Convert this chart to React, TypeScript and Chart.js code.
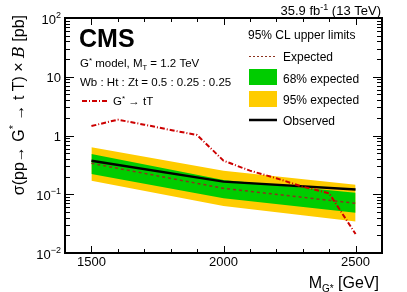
import React, { useEffect, useRef } from 'react';
import { Chart, registerables } from 'chart.js';

Chart.register(...registerables);

// ---- data ----
const limitMasses = [1500, 2000, 2500];
const expectedLimit = [0.336, 0.126, 0.0701];
const band68Lo = [0.221, 0.0853, 0.0486];
const band68Hi = [0.484, 0.175, 0.106];
const band95Lo = [0.17, 0.063, 0.0344];
const band95Hi = [0.63, 0.252, 0.1455];
const observedLimit = [0.372, 0.164, 0.121];

const theoryMasses = [1500, 1600, 1700, 1800, 1900, 2000, 2100, 2200, 2300, 2400, 2500];
const theoryXsec = [1.45, 1.86, 1.53, 1.24, 1.02, 0.373, 0.252, 0.187, 0.1345, 0.1037, 0.021];

const xMin = 1400;
const xMax = 2600;
const xMajorTicks = [1500, 2000, 2500];
const xMinorStep = 100;
const yMin = 0.01;
const yMax = 100;
const yTickValues = [0.01, 0.1, 1, 10, 100];
const yTickBase = ['10', '10', '1', '10', '10'];
const yTickExp = ['\u22122', '\u22121', '', '', '2'];

const F = '"Liberation Sans", Arial, Helvetica, sans-serif';

const C_RED = '#cc0000';
const C_EXP = 'rgb(140,50,30)';
const C_GREEN = '#00cc00';
const C_YELLOW = '#ffcc00';

type Seg = { t: string; size: number; dy?: number; style?: string; family?: string };

function segFont(s: Seg) {
  return `${s.style ? s.style + ' ' : ''}${s.size}px ${s.family || F}`;
}

function drawRich(ctx: CanvasRenderingContext2D, segs: Seg[], x: number, y: number, align: 'left' | 'right' | 'center') {
  ctx.textBaseline = 'alphabetic';
  ctx.textAlign = 'left';
  let total = 0;
  const widths = segs.map((s) => {
    ctx.font = segFont(s);
    const w = ctx.measureText(s.t).width;
    total += w;
    return w;
  });
  let cx = align === 'left' ? x : align === 'right' ? x - total : x - total / 2;
  segs.forEach((s, i) => {
    ctx.font = segFont(s);
    ctx.fillText(s.t, cx, y + (s.dy || 0));
    cx += widths[i];
  });
}

const decorPlugin = {
  id: 'decor',
  afterDraw(chart: any) {
    const ctx: CanvasRenderingContext2D = chart.ctx;
    const { left, right, top, bottom } = chart.chartArea;
    const xs = chart.scales.x;
    const ys = chart.scales.y;
    ctx.save();
    ctx.fillStyle = '#000';
    ctx.strokeStyle = '#000';

    // ticks
    ctx.lineWidth = 1;
    ctx.beginPath();
    for (let v = xMin; v <= xMax; v += xMinorStep) {
      const px = Math.round(xs.getPixelForValue(v)) + 0.5;
      const len = xMajorTicks.includes(v) ? 7 : 4;
      ctx.moveTo(px, bottom);
      ctx.lineTo(px, bottom - len);
      ctx.moveTo(px, top);
      ctx.lineTo(px, top + len);
    }
    for (let d = -2; d < 2; d++) {
      for (let m = 1; m <= 9; m++) {
        const v = m * Math.pow(10, d);
        const py = Math.round(ys.getPixelForValue(v)) + 0.5;
        const len = m === 1 ? 9 : 5;
        ctx.moveTo(left, py);
        ctx.lineTo(left + len, py);
        ctx.moveTo(right, py);
        ctx.lineTo(right - len, py);
      }
    }
    ctx.stroke();

    // frame
    ctx.lineWidth = 2;
    ctx.strokeRect(left, top, right - left, bottom - top);

    // x tick labels
    xMajorTicks.forEach((v) => {
      drawRich(ctx, [{ t: String(v), size: 13 }], xs.getPixelForValue(v), 266, 'center');
    });
    // y tick labels
    yTickValues.forEach((v, i) => {
      const py = ys.getPixelForValue(v);
      const segs: Seg[] = [{ t: yTickBase[i], size: 13 }];
      if (yTickExp[i]) segs.push({ t: yTickExp[i], size: 9, dy: -6 });
      drawRich(ctx, segs, 61, py + 5.5, 'right');
    });

    // axis titles
    drawRich(
      ctx,
      [
        { t: 'M', size: 16 },
        { t: 'G*', size: 10, dy: 4 },
        { t: ' [GeV]', size: 16 },
      ],
      379,
      288,
      'right'
    );
    ctx.save();
    ctx.translate(24, 0);
    ctx.rotate(-Math.PI / 2);
    drawRich(
      ctx,
      [
        { t: '\u03c3(pp\u2192 G', size: 16 },
        { t: '*', size: 11, dy: -7 },
        { t: ' \u2192 t T) \u00d7 ', size: 16 },
        { t: 'B', size: 16, style: 'italic', family: '"DejaVu Serif", serif' },
        { t: ' [pb]', size: 16 },
      ],
      -15,
      0,
      'right'
    );
    ctx.restore();

    // top right lumi
    drawRich(
      ctx,
      [
        { t: '35.9 fb', size: 13 },
        { t: '-1', size: 9, dy: -5 },
        { t: ' (13 TeV)', size: 13 },
      ],
      381,
      14.5,
      'right'
    );

    // CMS label
    drawRich(ctx, [{ t: 'CMS', size: 25, style: 'bold' }], 79, 47, 'left');
    drawRich(
      ctx,
      [
        { t: 'G', size: 11.5 },
        { t: '*', size: 8, dy: -4 },
        { t: ' model, M', size: 11.5 },
        { t: 'T', size: 7.5, dy: 3 },
        { t: ' = 1.2 TeV', size: 11.5 },
      ],
      80,
      67,
      'left'
    );
    drawRich(ctx, [{ t: 'Wb : Ht : Zt = 0.5 : 0.25 : 0.25', size: 11.5 }], 80, 86, 'left');
    // G* -> tT legend
    ctx.strokeStyle = C_RED;
    ctx.lineWidth = 2;
    ctx.setLineDash([5, 2, 1, 2]);
    ctx.beginPath();
    ctx.moveTo(82, 101);
    ctx.lineTo(109, 101);
    ctx.stroke();
    ctx.setLineDash([]);
    drawRich(
      ctx,
      [
        { t: 'G', size: 11.5 },
        { t: '*', size: 8, dy: -4 },
        { t: ' \u2192 tT', size: 11.5 },
      ],
      113,
      105,
      'left'
    );

    // right legend
    drawRich(ctx, [{ t: '95% CL upper limits', size: 12 }], 248, 38.5, 'left');
    ctx.strokeStyle = C_EXP;
    ctx.lineWidth = 1;
    ctx.setLineDash([2, 2]);
    ctx.beginPath();
    ctx.moveTo(249, 56.5);
    ctx.lineTo(277, 56.5);
    ctx.stroke();
    ctx.setLineDash([]);
    drawRich(ctx, [{ t: 'Expected', size: 12 }], 283, 60.5, 'left');
    ctx.fillStyle = C_GREEN;
    ctx.fillRect(249, 69, 28, 16);
    ctx.fillStyle = '#000';
    drawRich(ctx, [{ t: '68% expected', size: 12 }], 283, 82.5, 'left');
    ctx.fillStyle = C_YELLOW;
    ctx.fillRect(249, 91, 28, 16);
    ctx.fillStyle = '#000';
    drawRich(ctx, [{ t: '95% expected', size: 12 }], 283, 103.5, 'left');
    ctx.strokeStyle = '#000';
    ctx.lineWidth = 2.5;
    ctx.beginPath();
    ctx.moveTo(249, 120);
    ctx.lineTo(277, 120);
    ctx.stroke();
    drawRich(ctx, [{ t: 'Observed', size: 12 }], 283, 124.5, 'left');

    ctx.restore();
  },
};

function pts(xs: number[], ys: number[]) {
  return xs.map((x, i) => ({ x, y: ys[i] }));
}

export default function App() {
  const ref = useRef<HTMLCanvasElement>(null);
  useEffect(() => {
    if (!ref.current) return;
    const base = { pointRadius: 0, tension: 0 };
    const chart = new Chart(ref.current, {
      type: 'line',
      data: {
        datasets: [
          {
            ...base,
            label: 'G* -> tT',
            data: pts(theoryMasses, theoryXsec),
            borderColor: C_RED,
            borderWidth: 2,
            borderDash: [5, 2, 1, 2],
            fill: false,
          },
          {
            ...base,
            label: 'Observed',
            data: pts(limitMasses, observedLimit),
            borderColor: '#000',
            borderWidth: 2.5,
            fill: false,
          },
          {
            ...base,
            label: 'Expected',
            data: pts(limitMasses, expectedLimit),
            borderColor: C_EXP,
            borderWidth: 1.5,
            borderDash: [3, 3],
            fill: false,
          },
          {
            ...base,
            label: '68% hi',
            data: pts(limitMasses, band68Hi),
            borderColor: 'transparent',
            borderWidth: 0,
            backgroundColor: C_GREEN,
            fill: '+1',
          },
          {
            ...base,
            label: '68% lo',
            data: pts(limitMasses, band68Lo),
            borderColor: 'transparent',
            borderWidth: 0,
            fill: false,
          },
          {
            ...base,
            label: '95% hi',
            data: pts(limitMasses, band95Hi),
            borderColor: 'transparent',
            borderWidth: 0,
            backgroundColor: C_YELLOW,
            fill: '+1',
          },
          {
            ...base,
            label: '95% lo',
            data: pts(limitMasses, band95Lo),
            borderColor: 'transparent',
            borderWidth: 0,
            fill: false,
          },
        ],
      },
      options: {
        animation: false,
        responsive: false,
        devicePixelRatio: 1,
        layout: { padding: { left: 65, right: 25, top: 18, bottom: 39 } },
        plugins: { legend: { display: false }, tooltip: { enabled: false } },
        scales: {
          x: { type: 'linear', min: xMin, max: xMax, display: false },
          y: { type: 'logarithmic', min: yMin, max: yMax, display: false },
        },
      },
      plugins: [decorPlugin],
    } as any);
    return () => chart.destroy();
  }, []);
  return (
    <div style={{ position: 'absolute', left: 0, top: 0, width: 407, height: 292, background: '#fff' }}>
      <canvas ref={ref} width={407} height={292} style={{ width: 407, height: 292, display: 'block' }} />
    </div>
  );
}
